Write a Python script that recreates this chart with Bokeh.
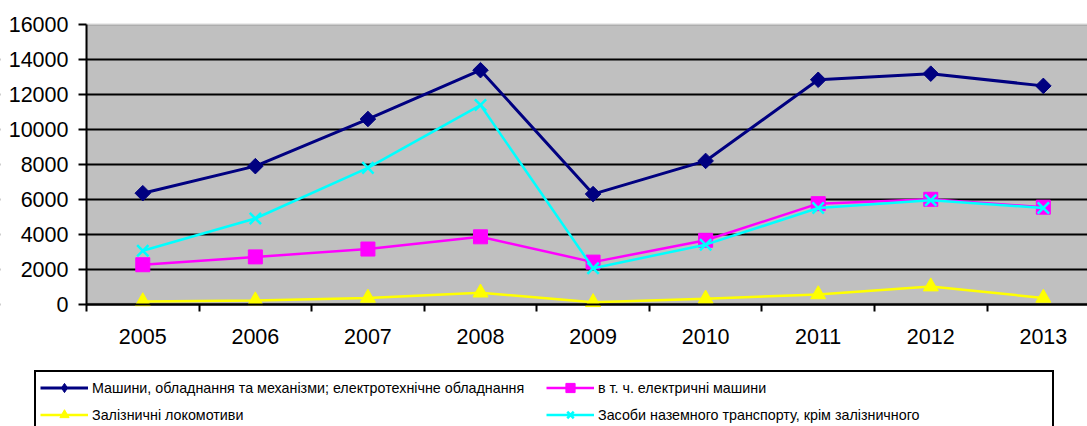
import math
from bokeh.plotting import figure
from bokeh.models import (Range1d, FixedTicker, Legend, LegendItem, BoxAnnotation,
                          ColumnDataSource)
from bokeh.embed import file_html
from bokeh.resources import INLINE

years = [2005, 2006, 2007, 2008, 2009, 2010, 2011, 2012, 2013]
machinery = [6350, 7900, 10600, 13400, 6300, 8200, 12850, 13200, 12500]
electric = [2250, 2700, 3150, 3850, 2400, 3650, 5750, 6000, 5550]
locomotives = [150, 200, 350, 650, 100, 300, 550, 1000, 350]
road_transport = [3050, 4900, 7800, 11400, 2050, 3400, 5500, 5950, 5500]
series_labels = [
    "Машини, обладнання та механізми; електротехнічне обладнання",
    "в т. ч. електричні машини",
    "Залізничні локомотиви",
    "Засоби наземного транспорту, крім залізничного",
]
y_ticks = [0, 2000, 4000, 6000, 8000, 10000, 12000, 14000, 16000]

src = ColumnDataSource(dict(year=years, machinery=machinery, electric=electric,
                            locomotives=locomotives, road=road_transport))

FONT = "Liberation Sans"
W, H = 1087, 426
PLOT_LEFT, CAT_W = 86, 112.57          # pixel of first category boundary, category width
Y_TOP, Y_ZERO = 24.3, 303.5            # pixel rows of the 16000 and 0 lines
upp = (y_ticks[-1] - y_ticks[0]) / (Y_ZERO - Y_TOP)   # value units per pixel

x_lo = years[0] - 0.5
x_range = Range1d(x_lo - PLOT_LEFT / CAT_W, x_lo + (W - PLOT_LEFT) / CAT_W)
y_range = Range1d(-(H - Y_ZERO) * upp, y_ticks[-1] + Y_TOP * upp)

p = figure(width=W, height=H, output_backend="svg", toolbar_location=None,
           x_range=x_range, y_range=y_range,
           min_border_left=0, min_border_right=0, min_border_top=0, min_border_bottom=0)
p.background_fill_color = "white"
p.border_fill_color = "white"
p.outline_line_color = None

# plot area (grey) with grey top border
p.add_layout(BoxAnnotation(left=x_lo, right=years[-1] + 0.5, bottom=0, top=y_ticks[-1],
                           fill_color="#C0C0C0", fill_alpha=1,
                           line_color="#808080", line_width=2.5, level="image"))

# grid
p.xgrid.visible = False
p.ygrid.ticker = FixedTicker(ticks=y_ticks[:-1])
p.ygrid.grid_line_color = "black"
p.ygrid.grid_line_width = 2
# white mask left of the plot area (hides grid under tick labels)
p.add_layout(BoxAnnotation(right=x_lo, fill_color="white", fill_alpha=1,
                           line_color=None, level="underlay"))

# x axis
p.xaxis.fixed_location = 0
p.xaxis.bounds = (x_lo, years[-1] + 0.5)
p.xaxis.ticker = FixedTicker(ticks=years, minor_ticks=[y - 0.5 for y in years])
p.xaxis.major_tick_out = 0
p.xaxis.major_tick_in = 0
p.xaxis.minor_tick_out = 7
p.xaxis.minor_tick_in = 0
p.xaxis.minor_tick_line_width = 2
p.xaxis.minor_tick_line_color = "black"
p.xaxis.axis_line_width = 2
p.xaxis.axis_line_color = "black"
p.xaxis.major_label_text_font = FONT
p.xaxis.major_label_text_font_size = "21.5px"
p.xaxis.major_label_text_color = "black"
p.xaxis.major_label_standoff = 18

# y axis
p.yaxis.fixed_location = x_lo
p.yaxis.bounds = (0, y_ticks[-1])
p.yaxis.ticker = FixedTicker(ticks=y_ticks)
p.yaxis.major_tick_out = 8
p.yaxis.major_tick_in = 0
p.yaxis.minor_tick_out = 0
p.yaxis.minor_tick_in = 0
p.yaxis.major_tick_line_width = 2
p.yaxis.major_tick_line_color = "black"
p.yaxis.axis_line_width = 2
p.yaxis.axis_line_color = "black"
p.yaxis.major_label_text_font = FONT
p.yaxis.major_label_text_font_size = "21.5px"
p.yaxis.major_label_text_color = "black"
p.yaxis.major_label_standoff = 10

# series
l1 = p.line("year", "machinery", source=src, line_color="#000080", line_width=3)
# diamond used for the legend key (the legend does not rotate markers);
# it sits fully under the rotated square drawn next
m1_key = p.scatter("year", "machinery", source=src, marker="diamond", size=11,
                   fill_color="#000080", line_color="#000080")
m1 = p.scatter("year", "machinery", source=src, marker="square", angle=math.pi / 4,
               size=11, fill_color="#000080", line_color="#000080")
l2 = p.line("year", "electric", source=src, line_color="#FF00FF", line_width=2.5)
m2 = p.scatter("year", "electric", source=src, marker="square", size=14,
               fill_color="#FF00FF", line_color="#FF00FF")
l3 = p.line("year", "locomotives", source=src, line_color="#FFFF00", line_width=2.5)
m3 = p.scatter("year", "locomotives", source=src, marker="triangle", size=15,
               fill_color="#FFFF00", line_color="#FFFF00")
l4 = p.line("year", "road", source=src, line_color="#00FFFF", line_width=2.5)
m4 = p.scatter("year", "road", source=src, marker="x", size=16,
               line_color="#00FFFF", line_width=2.5)

legend = Legend(
    items=[
        LegendItem(label=series_labels[0], renderers=[l1, m1_key]),
        LegendItem(label=series_labels[1], renderers=[l2, m2]),
        LegendItem(label=series_labels[2], renderers=[l3, m3]),
        LegendItem(label=series_labels[3], renderers=[l4, m4]),
    ],
    location=(34, -6), orientation="horizontal", ncols=2,
    glyph_width=48, glyph_height=23, label_height=23, label_width=450,
    label_standoff=4, spacing=4, padding=4, margin=0,
    border_line_color="black", border_line_width=2, border_line_alpha=1,
    background_fill_color="white", background_fill_alpha=1,
    label_text_font=FONT, label_text_font_size="14.3px", label_text_color="black",
)
p.add_layout(legend)

open("out.html", "w").write(file_html(p, INLINE))
